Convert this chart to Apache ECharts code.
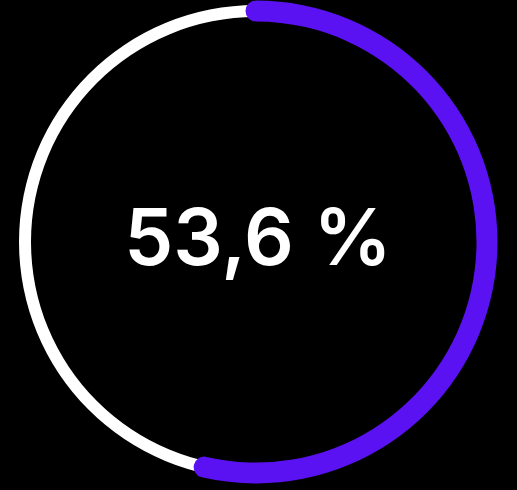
<!DOCTYPE html>
<html>
<head>
<meta charset="utf-8">
<script src="https://cdn.jsdelivr.net/npm/echarts@6/dist/echarts.min.js"></script>
<style>
html,body{margin:0;padding:0;background:#000;}
#chart{width:517px;height:490px;}
</style>
</head>
<body>
<div id="chart"></div>
<script>
const names = ['Anteil'];
const values = [53.6];
const maxValue = 100;

const chart = echarts.init(document.getElementById('chart'), null, {renderer: 'canvas'});
const center = [256, 242];
const fmt = v => v.toFixed(1).replace('.', ',') + ' %';

chart.setOption({
  backgroundColor: '#000000',
  series: [
    {
      type: 'gauge',
      center: center,
      radius: 237,
      startAngle: 90,
      endAngle: -270,
      min: 0,
      max: maxValue,
      pointer: {show: false},
      axisLine: {lineStyle: {width: 12, color: [[1, '#ffffff']]}},
      axisTick: {show: false},
      splitLine: {show: false},
      axisLabel: {show: false},
      detail: {show: false},
      title: {show: false},
      data: [{value: 0, name: ''}]
    },
    {
      type: 'gauge',
      center: center,
      radius: 241.5,
      startAngle: 90,
      endAngle: -270,
      min: 0,
      max: maxValue,
      pointer: {show: false},
      progress: {show: true, width: 21, roundCap: true, itemStyle: {color: '#5b12f3'}},
      axisLine: {lineStyle: {width: 21, color: [[1, 'rgba(0,0,0,0)']]}},
      axisTick: {show: false},
      splitLine: {show: false},
      axisLabel: {show: false},
      title: {show: false},
      detail: {
        valueAnimation: false,
        offsetCenter: [2, 0],
        formatter: fmt,
        color: '#ffffff',
        fontFamily: 'Inter',
        fontWeight: 600,
        fontSize: 78
      },
      data: names.map((n, i) => ({name: n, value: values[i]}))
    }
  ]
});
</script>
</body>
</html>
